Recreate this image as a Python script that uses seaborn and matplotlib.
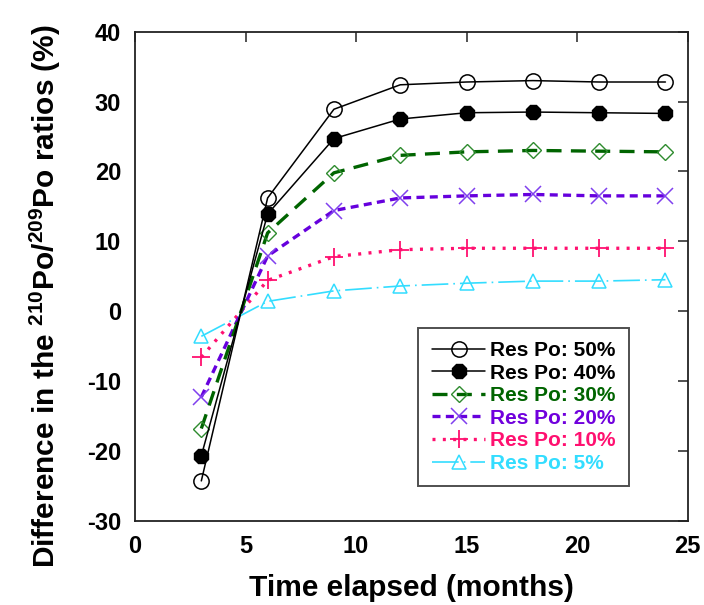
import matplotlib
matplotlib.use("Agg")
import matplotlib.pyplot as plt
import seaborn as sns
import pandas as pd

sns.set_theme(style="white")
plt.rcParams['font.family'] = ['Liberation Sans', 'DejaVu Sans']
plt.rcParams['font.weight'] = 'bold'
plt.rcParams['mathtext.fontset'] = 'custom'
plt.rcParams['mathtext.rm'] = 'Liberation Sans:bold'
plt.rcParams['mathtext.bf'] = 'Liberation Sans:bold'
plt.rcParams['mathtext.it'] = 'Liberation Sans:bold'
plt.rcParams['axes.unicode_minus'] = False
for k in ['text.color', 'axes.labelcolor', 'xtick.color', 'ytick.color']:
    plt.rcParams[k] = 'black'

months = [3, 6, 9, 12, 15, 18, 21, 24]
res50 = [-24.3, 16.2, 28.9, 32.4, 32.8, 33.0, 32.8, 32.8]
res40 = [-20.7, 13.9, 24.7, 27.5, 28.4, 28.5, 28.4, 28.3]
res30 = [-16.8, 11.2, 19.8, 22.3, 22.8, 23.0, 22.9, 22.8]
res20 = [-12.3, 7.9, 14.4, 16.2, 16.5, 16.7, 16.5, 16.5]
res10 = [-6.6, 4.4, 7.8, 8.8, 9.0, 9.0, 9.0, 9.0]
res5 = [-3.6, 1.4, 2.9, 3.6, 4.0, 4.3, 4.3, 4.5]
labels = ["Res Po: 50%", "Res Po: 40%", "Res Po: 30%", "Res Po: 20%", "Res Po: 10%", "Res Po: 5%"]

series = [res50, res40, res30, res20, res10, res5]
styles = [
    dict(color="black", lw=1.1, ls="-", marker="o", ms=11, mfc="none", mec="black", mew=1.1),
    dict(color="black", lw=1.1, ls="-", marker="8", ms=11.5, mfc="black", mec="black", mew=1.0),
    dict(color="#006400", lw=2.4, ls=(0, (4.5, 2.8)), marker="D", ms=8, mfc="none", mec="#2e8b2e", mew=1.0),
    dict(color="#6600dd", lw=2.4, ls=(0, (2.4, 1.6)), marker="x", ms=11, mfc="none", mec="#8040ee", mew=1.1),
    dict(color="#ff1070", lw=2.4, ls=(0, (0.9, 2.2)), marker="+", ms=12.5, mfc="none", mec="#ff1070", mew=1.3),
    dict(color="#33ddff", lw=1.2, ls=(0, (16, 3, 1, 3)), marker="^", ms=10, mfc="none", mec="#33ddff", mew=1.1),
]
text_colors = ["black", "black", "#006400", "#7000dd", "#ff1070", "#33ddff"]

fig = plt.figure(figsize=(7.04, 6.05), dpi=100)
ax = fig.add_axes([0.1918, 0.1393, 0.9766 - 0.1918, 0.9476 - 0.1393])

for i, (vals, lab, st) in enumerate(zip(series, labels, styles)):
    df = pd.DataFrame({"month": months, "value": vals})
    sns.lineplot(data=df, x="month", y="value", ax=ax, color=st["color"],
                 linewidth=st["lw"], linestyle=st["ls"], marker=st["marker"],
                 markersize=st["ms"], markerfacecolor=st["mfc"],
                 markeredgecolor=st["mec"], markeredgewidth=st["mew"],
                 label=lab, zorder=10 - i, legend=False)

ax.set_xlim(0, 25)
ax.set_ylim(-30, 40)
ax.set_xticks([0, 5, 10, 15, 20, 25])
ax.set_yticks([-30, -20, -10, 0, 10, 20, 30, 40])
ax.tick_params(direction="in", length=7, width=1.1, color="#222222",
               top=True, right=True, labelsize=17, pad=10)
for lbl in ax.get_xticklabels() + ax.get_yticklabels():
    lbl.set_fontweight("bold")
for sp in ax.spines.values():
    sp.set_color("#222222")
    sp.set_linewidth(1.3)

ax.set_xlabel("Time elapsed (months)", fontsize=21.5, fontweight="bold", labelpad=12)
ax.set_ylabel(r"Difference in the $^{\mathbf{210}}$Po/$^{\mathbf{209}}$Po ratios (%)",
              fontsize=21.5, fontweight="bold")
ax.yaxis.set_label_coords(-0.13, 0.46)

leg = ax.legend(loc="upper left", bbox_to_anchor=(0.513, 0.395),
                frameon=True, fancybox=False, edgecolor="#222222",
                handlelength=2.55, handletextpad=0.25, labelspacing=0.17,
                borderpad=0.65, borderaxespad=0,
                prop={"weight": "bold", "size": 15})
leg.get_frame().set_linewidth(1.4)
for t, c in zip(leg.get_texts(), text_colors):
    t.set_color(c)

fig.savefig("out.png", dpi=100)
